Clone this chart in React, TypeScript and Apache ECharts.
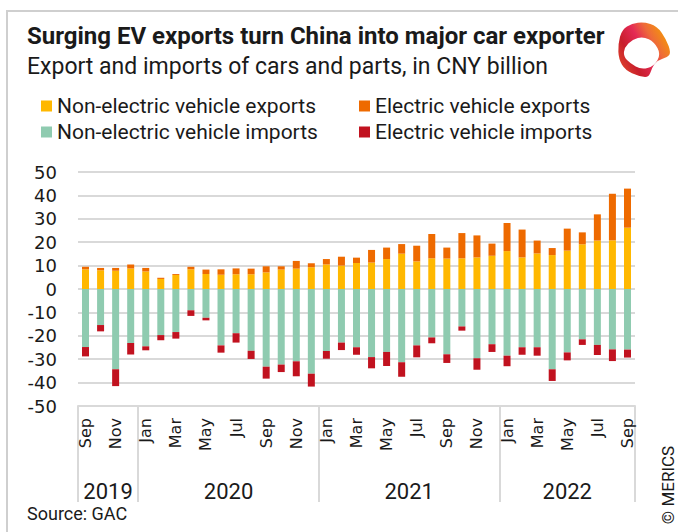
import React, { useEffect, useRef } from "react";
import * as echarts from "echarts";

const categories = [
  "Sep 2019", "Oct 2019", "Nov 2019", "Dec 2019",
  "Jan 2020", "Feb 2020", "Mar 2020", "Apr 2020", "May 2020", "Jun 2020",
  "Jul 2020", "Aug 2020", "Sep 2020", "Oct 2020", "Nov 2020", "Dec 2020",
  "Jan 2021", "Feb 2021", "Mar 2021", "Apr 2021", "May 2021", "Jun 2021",
  "Jul 2021", "Aug 2021", "Sep 2021", "Oct 2021", "Nov 2021", "Dec 2021",
  "Jan 2022", "Feb 2022", "Mar 2022", "Apr 2022", "May 2022", "Jun 2022",
  "Jul 2022", "Aug 2022", "Sep 2022",
];

const nonEvExports = [
  8.4, 8.0, 7.8, 8.8, 7.5, 4.3, 6.0, 8.4, 6.4, 6.1, 6.3, 6.3, 7.1, 8.3, 8.7, 9.3,
  10.5, 10.0, 11.1, 11.3, 12.8, 15.1, 11.8, 13.1, 13.0, 13.1, 13.5, 14.2,
  16.2, 13.5, 15.2, 14.5, 16.4, 19.1, 20.7, 20.8, 26.2,
];
const evExports = [
  1.1, 1.0, 1.2, 1.7, 1.5, 0.5, 0.4, 1.1, 1.9, 2.3, 2.5, 2.4, 2.6, 1.4, 3.3, 1.7,
  2.3, 3.8, 2.3, 5.4, 4.9, 4.1, 6.7, 10.4, 4.7, 10.8, 9.4, 5.2,
  12.0, 11.9, 5.5, 3.0, 9.4, 5.1, 11.2, 19.9, 16.7,
];
const nonEvImports = [
  -24.8, -15.4, -34.3, -23.1, -24.5, -19.7, -18.4, -9.1, -12.3, -24.1, -18.9, -26.4,
  -33.2, -32.3, -30.9, -36.2, -26.5, -22.9, -24.9, -29.1, -26.9, -31.3, -24.1, -20.7,
  -27.9, -16.0, -29.6, -23.6, -28.5, -24.9, -24.9, -34.3, -27.1, -21.5, -23.9, -25.8, -25.9,
];
const evImports = [
  -4.0, -2.7, -7.2, -4.9, -1.7, -2.2, -2.8, -2.4, -1.1, -3.1, -4.0, -3.5,
  -5.1, -3.2, -6.4, -5.5, -3.3, -3.2, -3.2, -4.8, -6.0, -6.2, -5.1, -2.5,
  -3.7, -1.8, -4.9, -3.3, -4.5, -3.2, -3.6, -5.0, -3.4, -2.4, -4.3, -5.0, -3.4,
];

const seriesNames = [
  "Non-electric vehicle exports",
  "Electric vehicle exports",
  "Non-electric vehicle imports",
  "Electric vehicle imports",
];
const seriesColors = ["#FFB800", "#EE6A00", "#8FCBB0", "#C1121F"];

const TITLE = "Surging EV exports turn China into major car exporter";
const SUBTITLE = "Export and imports of cars and parts, in CNY billion";
const SOURCE = "Source: GAC";
const CREDIT = "\u00A9 MERICS";

// logo geometry
const logoOuter = [
  [4, 8.3], [14, 2.7], [25.7, 1], [39, 5], [48.3, 18.3], [53, 31.7], [49, 36.7],
  [39, 39.3], [34, 46.7], [30.7, 56.7], [20.7, 55], [7.3, 49.3], [0.7, 38.3], [0, 23.3],
];
const logoInner = [
  [6.4, 26.5], [14.3, 18.5], [25.3, 15.5], [36.3, 21.2], [42.9, 33.1], [36, 45.5],
  [23, 48.5], [12.5, 42.5], [5.5, 35.3],
];
function smoothPath(pts: number[][]): string {
  const n = pts.length;
  const mid = (a: number[], b: number[]) => [(a[0] + b[0]) / 2, (a[1] + b[1]) / 2];
  const m0 = mid(pts[n - 1], pts[0]);
  let d = `M${m0[0]} ${m0[1]}`;
  for (let i = 0; i < n; i++) {
    const m = mid(pts[i], pts[(i + 1) % n]);
    d += ` Q${pts[i][0]} ${pts[i][1]} ${m[0]} ${m[1]}`;
  }
  return d + " Z";
}
echarts.graphic.registerShape("mericsLogoOuter", echarts.graphic.extendPath(smoothPath(logoOuter), {}));
echarts.graphic.registerShape("mericsLogoInner", echarts.graphic.extendPath(smoothPath(logoInner), {}));

const TEXT = "#1a1a1a";
const GRID_COLOR = "#d9d9d9";

export default function App() {
  const ref = useRef<HTMLDivElement>(null);
  useEffect(() => {
    if (!ref.current) return;
    const chart = echarts.init(ref.current, undefined, { renderer: "svg" });

    const isYearStart = (i: number) => i === 0 || categories[i].startsWith("Jan");

    const baseGraphics: any[] = [
      {
        type: "rect", id: "frame", z: -10,
        shape: { x: 7, y: 11, width: 720, height: 600 },
        style: { fill: "none", stroke: "#cfcfcf", lineWidth: 2 },
      },
      {
        type: "mericsLogoOuter", id: "logoOuter", x: 618, y: 21, scaleX: 1, scaleY: 1,
        style: {
          fill: new echarts.graphic.LinearGradient(1, 0.2, 0, 0.8, [
            { offset: 0, color: "#F5A000" },
            { offset: 0.3, color: "#EE6A3A" },
            { offset: 0.5, color: "#E42A55" },
            { offset: 0.75, color: "#C81E2C" },
            { offset: 1, color: "#E0452A" },
          ]),
        },
      },
      {
        type: "mericsLogoInner", id: "logoInner", x: 618, y: 21, scaleX: 1, scaleY: 1,
        style: { fill: "#ffffff" },
      },
      {
        type: "text", id: "source", x: 27, y: 513,
        style: { text: SOURCE, font: "18px Roboto", fill: TEXT, align: "left", verticalAlign: "middle" },
      },
      {
        type: "text", id: "credit", x: 668, y: 485, rotation: Math.PI / 2,
        style: { text: CREDIT, font: "17px Roboto", fill: TEXT, align: "center", verticalAlign: "middle" },
      },
    ];

    const legendBase = {
      orient: "vertical" as const,
      top: 95,
      itemWidth: 11,
      itemHeight: 11,
      itemGap: 4,
      icon: "rect",
      padding: 0,
      selectedMode: false,
      textStyle: { fontFamily: "Roboto", fontSize: 21, color: TEXT, lineHeight: 22 },
    };

    const option: any = {
      animation: false,
      backgroundColor: "#ffffff",
      title: {
        text: TITLE,
        subtext: SUBTITLE,
        left: 27,
        top: 23,
        padding: 0,
        itemGap: 4,
        textStyle: { fontFamily: "Roboto", fontSize: 24, fontWeight: "bold", color: TEXT, lineHeight: 26 },
        subtextStyle: { fontFamily: "Roboto", fontSize: 23, color: TEXT, lineHeight: 26 },
      },
      legend: [
        { ...legendBase, left: 41, data: [seriesNames[0], seriesNames[2]] },
        { ...legendBase, left: 359, data: [seriesNames[1], seriesNames[3]] },
      ],
      grid: { left: 78, right: 43, top: 172, bottom: 126, containLabel: false },
      xAxis: {
        type: "category",
        data: categories,
        boundaryGap: true,
        axisLine: { onZero: false, lineStyle: { color: GRID_COLOR, width: 2 } },
        axisTick: {
          show: true,
          alignWithLabel: false,
          length: 96,
          interval: (index: number) => isYearStart(index),
          lineStyle: { color: GRID_COLOR, width: 2 },
        },
        axisLabel: {
          interval: 1,
          rotate: 90,
          margin: 12,
          fontFamily: "DejaVu Sans",
          fontSize: 16,
          color: TEXT,
          formatter: (v: string) => v.split(" ")[0],
        },
      },
      yAxis: {
        type: "value",
        min: -50,
        max: 50,
        interval: 10,
        axisLine: { show: false },
        axisTick: { show: false },
        splitLine: { lineStyle: { color: GRID_COLOR, width: 2 } },
        axisLabel: { fontFamily: "DejaVu Sans", fontSize: 18, color: TEXT, margin: 21 },
      },
      series: [nonEvExports, evExports, nonEvImports, evImports].map((d, i) => ({
        name: seriesNames[i],
        type: "bar",
        stack: "total",
        stackStrategy: "samesign",
        barWidth: 7,
        data: d,
        itemStyle: { color: seriesColors[i] },
      })),
      graphic: { elements: baseGraphics },
    };

    chart.setOption(option);

    // year labels centred under each year's group of months
    const groups: { year: string; first: number; last: number }[] = [];
    categories.forEach((c, i) => {
      const y = c.split(" ")[1];
      const g = groups[groups.length - 1];
      if (g && g.year === y) g.last = i;
      else groups.push({ year: y, first: i, last: i });
    });
    const yearTexts = groups.map((g) => {
      const x0 = chart.convertToPixel({ xAxisIndex: 0 }, g.first) as number;
      const x1 = chart.convertToPixel({ xAxisIndex: 0 }, g.last) as number;
      return {
        type: "text",
        id: "year" + g.year,
        x: (x0 + x1) / 2,
        y: 491,
        style: { text: g.year, font: "22px Roboto", fill: TEXT, align: "center", verticalAlign: "middle" },
      };
    });
    chart.setOption({ graphic: { elements: [...baseGraphics, ...yearTexts] } });

    return () => chart.dispose();
  }, []);

  return (
    <div
      ref={ref}
      style={{ position: "fixed", left: 0, top: 0, width: 678, height: 532, background: "#fff" }}
    />
  );
}
